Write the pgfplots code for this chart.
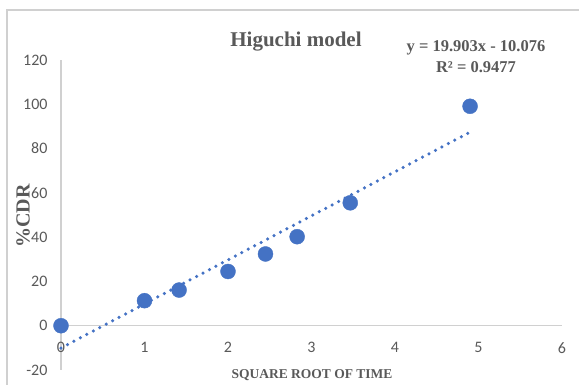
\documentclass[border=0pt]{standalone}
\usepackage{pgfplots}
\pgfplotsset{compat=1.18}
\usepackage{fontspec}
\setmainfont{Liberation Serif}
\setsansfont{Carlito}
\definecolor{ptblue}{HTML}{4472C4}
\definecolor{txtgray}{HTML}{595959}
\definecolor{axgray}{HTML}{D0D0D0}
\begin{document}
\begin{tikzpicture}[x=1pt,y=1pt]
\useasboundingbox (0,0) rectangle (579,385);
\draw[axgray, line width=1.2pt] (7,0) -- (7,375) -- (579,375);
\begin{axis}[
  at={(61pt,15pt)}, anchor=south west,
  scale only axis, width=501pt, height=310pt,
  xmin=0, xmax=6, ymin=-20, ymax=120,
  axis lines=middle,
  axis line style={-, axgray, line width=1.2pt},
  xtick={0,1,...,6}, ytick={-20,0,20,...,120},
  xticklabels={0,1,2,3,4,5,6},
  yticklabels={-20,0,20,40,60,80,100,120},
  major tick length=0pt,
  hide obscured x ticks=false, hide obscured y ticks=false,
  xticklabel style={font=\sffamily\fontsize{16}{19}\selectfont, text=txtgray, yshift=-13pt},
  yticklabel style={font=\sffamily\fontsize{16}{19}\selectfont, text=txtgray, xshift=-10pt},
  clip=false,
]
\addplot[only marks, mark=*, mark size=7.5pt, ptblue, mark options={draw=ptblue, fill=ptblue}]
  coordinates {(0,0) (1,11.3) (1.414,16.1) (2,24.5) (2.449,32.4) (2.828,40.2) (3.464,55.5) (4.899,99.1)};
\addplot[ptblue, line width=3.5pt, line cap=round, dash pattern=on 0pt off 7.3pt]
  coordinates {(0,-10.076) (4.899,87.43)};
\end{axis}
\node[font=\bfseries\fontsize{21}{24}\selectfont, text=txtgray] at (296,343) {Higuchi model};
\node[font=\bfseries\fontsize{16.5}{18}\selectfont, text=txtgray] at (476,337) {y = 19.903x - 10.076};
\node[font=\bfseries\fontsize{16.5}{18}\selectfont, text=txtgray] at (476,318) {R² = 0.9477};
\node[font=\bfseries\fontsize{13.5}{15}\selectfont, text=txtgray] at (312,10) {SQUARE ROOT OF TIME};
\node[font=\bfseries\fontsize{20}{24}\selectfont, text=txtgray, rotate=90] at (23,169) {\%CDR};
\end{tikzpicture}
\end{document}
